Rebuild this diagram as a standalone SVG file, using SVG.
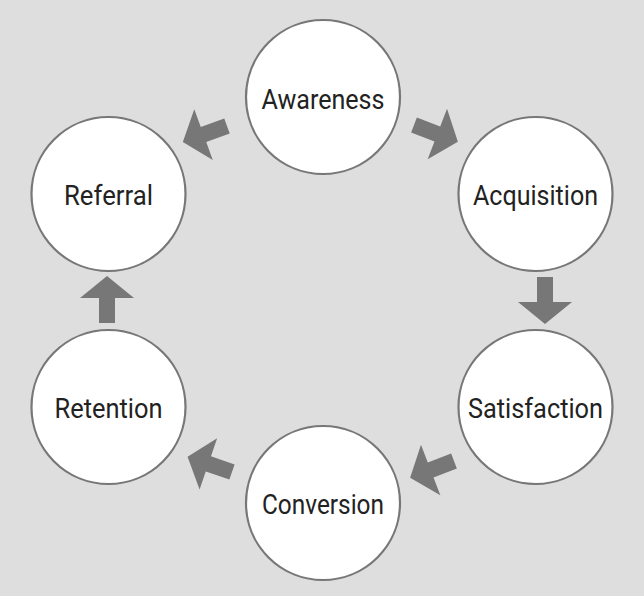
<svg xmlns="http://www.w3.org/2000/svg" width="644" height="596" viewBox="0 0 644 596">
<style>
.bg{fill:#dedede}
.node circle{fill:#ffffff;stroke:#777777;stroke-width:2.2}
.node text{font-family:Roboto,"Liberation Sans",sans-serif;font-size:27.5px;font-weight:400;fill:#222222;text-anchor:middle}
.arr{fill:#777777}
</style>
<defs>
<path id="blk" d="M0,-8 L25,-8 L25,-27 L47,0 L25,27 L25,8 L0,8 Z"/>
</defs>
<rect class="bg" x="0" y="0" width="644" height="596"/>
<g id="connectors">
<use href="#blk" class="arr" transform="translate(414,125) rotate(21)"/>
<use href="#blk" class="arr" transform="translate(545,277) rotate(90)"/>
<use href="#blk" class="arr" transform="translate(454,461) rotate(159)"/>
<use href="#blk" class="arr" transform="translate(232,472) rotate(199)"/>
<use href="#blk" class="arr" transform="translate(107,323) rotate(-90)"/>
<use href="#blk" class="arr" transform="translate(227,126) rotate(160)"/>
</g>
<g id="awareness" class="node"><circle cx="323" cy="97" r="77"/><text x="323" y="109" textLength="123" lengthAdjust="spacingAndGlyphs">Awareness</text></g>
<g id="acquisition" class="node"><circle cx="535.5" cy="194" r="77"/><text x="535.5" y="205" textLength="125" lengthAdjust="spacingAndGlyphs">Acquisition</text></g>
<g id="satisfaction" class="node"><circle cx="535.5" cy="407" r="77"/><text x="535.5" y="418" textLength="135" lengthAdjust="spacingAndGlyphs">Satisfaction</text></g>
<g id="conversion" class="node"><circle cx="323" cy="503" r="77"/><text x="323" y="514" textLength="122" lengthAdjust="spacingAndGlyphs">Conversion</text></g>
<g id="retention" class="node"><circle cx="108.5" cy="407" r="77"/><text x="108.5" y="418" textLength="108" lengthAdjust="spacingAndGlyphs">Retention</text></g>
<g id="referral" class="node"><circle cx="108.5" cy="194" r="77"/><text x="108.5" y="205" textLength="89" lengthAdjust="spacingAndGlyphs">Referral</text></g>
</svg>
